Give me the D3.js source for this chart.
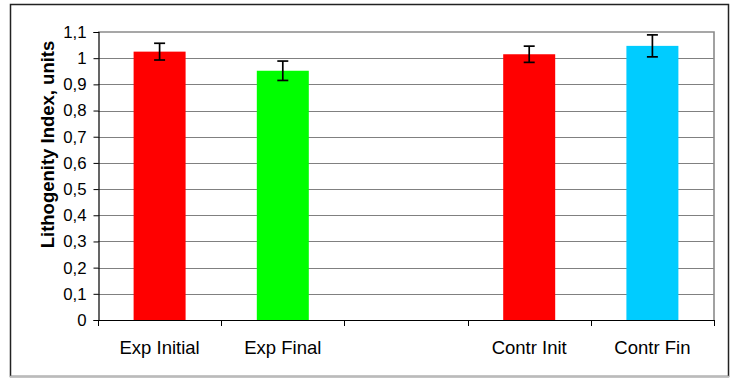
<!DOCTYPE html>
<html>
<head>
<meta charset="utf-8">
<script src="https://cdn.jsdelivr.net/npm/d3@7"></script>
<style>
  html, body { margin: 0; padding: 0; background: #fff; }
  svg { display: block; font-family: "Liberation Sans", Arial, sans-serif; }
</style>
</head>
<body>
<svg id="chart" width="740" height="378"></svg>
<script>
const categories = ["Exp Initial", "Exp Final", "", "Contr Init", "Contr Fin"];
const values = [1.025, 0.952, null, 1.015, 1.047];
const errors = [0.032, 0.037, null, 0.031, 0.042];
const colors = ["#FF0000", "#00FF00", null, "#FF0000", "#00CCFF"];
const yTickValues = [0, 0.1, 0.2, 0.3, 0.4, 0.5, 0.6, 0.7, 0.8, 0.9, 1, 1.1];
const yTickLabels = ["0", "0,1", "0,2", "0,3", "0,4", "0,5", "0,6", "0,7", "0,8", "0,9", "1", "1,1"];
const yTitle = "Lithogenity Index, units";

const svg = d3.select("#chart");
const pLeft = 98, pRight = 714, pTop = 32, pBottom = 320;

// outer frame
svg.append("rect").attr("x", 10.5).attr("y", 4.5).attr("width", 718).attr("height", 372)
  .attr("fill", "#fff").attr("stroke", "#222").attr("stroke-width", 1.5);
svg.append("line").attr("x1", 10).attr("x2", 729).attr("y1", 376.5).attr("y2", 376.5)
  .attr("stroke", "#bbb").attr("stroke-width", 1.5);

const slotKeys = categories.map((c, i) => i);
const x = d3.scaleBand().domain(slotKeys).range([pLeft, pRight]).padding(0);
const y = d3.scaleLinear().domain([0, 1.1]).range([pBottom, pTop]);
const barW = x.bandwidth() * 0.422;

// gridlines
svg.append("g").selectAll("line").data(yTickValues.filter(v => v > 0 && v < 1.1)).join("line")
  .attr("x1", pLeft).attr("x2", pRight)
  .attr("y1", d => Math.round(y(d)) + 0.5).attr("y2", d => Math.round(y(d)) + 0.5)
  .attr("stroke", "#808080").attr("stroke-width", 1.2);

// plot border (top & right)
svg.append("path")
  .attr("d", `M${pLeft},${y(1.1)}H${pRight}V${pBottom}`)
  .attr("fill", "none").attr("stroke", "#8a8a8a").attr("stroke-width", 1.6);

// bars
const data = categories.map((c, i) => ({ i, c, v: values[i], e: errors[i], col: colors[i] })).filter(d => d.v != null);
svg.append("g").selectAll("rect").data(data).join("rect")
  .attr("x", d => x(d.i) + x.bandwidth() / 2 - barW / 2)
  .attr("width", barW)
  .attr("y", d => y(d.v))
  .attr("height", d => y(0) - y(d.v))
  .attr("fill", d => d.col);

// error bars
const eg = svg.append("g").attr("stroke", "#000").attr("stroke-width", 1.7);
data.forEach(d => {
  const cx = x(d.i) + x.bandwidth() / 2;
  eg.append("line").attr("x1", cx).attr("x2", cx).attr("y1", y(d.v + d.e)).attr("y2", y(d.v - d.e));
  eg.append("line").attr("x1", cx - 5.5).attr("x2", cx + 5.5).attr("y1", y(d.v + d.e)).attr("y2", y(d.v + d.e));
  eg.append("line").attr("x1", cx - 5.5).attr("x2", cx + 5.5).attr("y1", y(d.v - d.e)).attr("y2", y(d.v - d.e));
});

// y axis
const yAxis = d3.axisLeft(y).tickValues(yTickValues)
  .tickFormat((d, i) => yTickLabels[i]).tickSize(5).tickPadding(7);
const yg = svg.append("g").attr("transform", `translate(${pLeft + 0.5},0)`).call(yAxis);
yg.select(".domain").attr("stroke", "#000").attr("stroke-width", 1.2);
yg.selectAll(".tick line").attr("stroke", "#000");
yg.selectAll(".tick text").attr("font-size", 16.8).attr("fill", "#000")
  .attr("font-family", "'Liberation Sans', Arial, sans-serif");

// x axis
const xBounds = slotKeys.map(k => x(k)).concat([pRight]);
svg.append("line").attr("x1", pLeft).attr("x2", pRight).attr("y1", pBottom + 0.5).attr("y2", pBottom + 0.5)
  .attr("stroke", "#000").attr("stroke-width", 1.2);
svg.append("g").selectAll("line").data(xBounds).join("line")
  .attr("x1", d => Math.round(d) + 0.5).attr("x2", d => Math.round(d) + 0.5)
  .attr("y1", pBottom).attr("y2", pBottom + 6)
  .attr("stroke", "#000").attr("stroke-width", 1);
svg.append("g").selectAll("text").data(categories.map((c, i) => ({ c, i }))).join("text")
  .attr("x", d => x(d.i) + x.bandwidth() / 2)
  .attr("y", 354)
  .attr("text-anchor", "middle")
  .attr("font-size", 18.5)
  .attr("fill", "#000")
  .text(d => d.c);

// y title
svg.append("text")
  .attr("transform", `translate(54,144.5) rotate(-90)`)
  .attr("text-anchor", "middle")
  .attr("font-size", 18.5)
  .attr("font-weight", "bold")
  .attr("fill", "#000")
  .text(yTitle);
</script>
</body>
</html>
